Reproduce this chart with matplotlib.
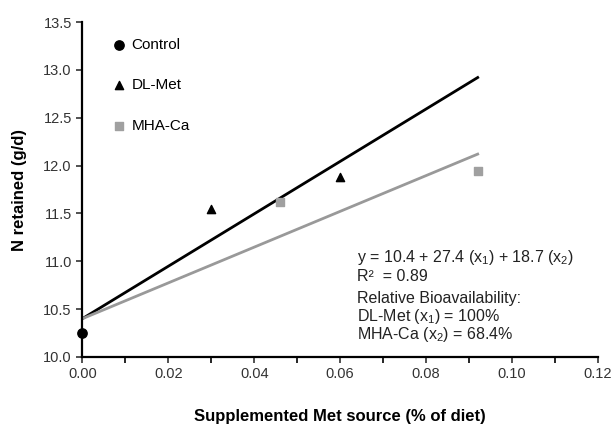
import numpy as np
import matplotlib
matplotlib.use("Agg")
import matplotlib.pyplot as plt

# -----------------------------
# Data
# -----------------------------
control_x = [0.0]
control_y = [10.25]
dlmet_x = [0.03, 0.06]
dlmet_y = [11.55, 11.88]
mha_x = [0.046, 0.092]
mha_y = [11.62, 11.94]

intercept = 10.4
slope_dlmet = 27.4
slope_mha = 18.7
line_x = [0.0, 0.092]

x_ticks = [0.00, 0.02, 0.04, 0.06, 0.08, 0.10, 0.12]
y_ticks = [10.0, 10.5, 11.0, 11.5, 12.0, 12.5, 13.0, 13.5]

annot_lines = [
    "y = 10.4 + 27.4 (x$_1$) + 18.7 (x$_2$)",
    "R\u00b2  = 0.89",
    "Relative Bioavailability:",
    "DL-Met (x$_1$) = 100%",
    "MHA-Ca (x$_2$) = 68.4%",
]

plt.rcParams['font.family'] = ['Liberation Sans', 'DejaVu Sans']
plt.rcParams['mathtext.fontset'] = 'custom'
plt.rcParams['mathtext.rm'] = 'Liberation Sans'
plt.rcParams['mathtext.default'] = 'regular'

fig = plt.figure(figsize=(6.14, 4.25), dpi=100)
ax = fig.add_axes([0.134, 0.16, 0.840, 0.788])

lx = np.array(line_x)
ax.plot(lx, intercept + slope_dlmet * lx, color="black", lw=2, zorder=2)
ax.plot(lx, intercept + slope_mha * lx, color="#999999", lw=2, zorder=2)

ax.scatter(control_x, control_y, marker="o", s=45, color="black",
           label="Control", zorder=3, clip_on=False)
ax.scatter(dlmet_x, dlmet_y, marker="^", s=35, color="black",
           label="DL-Met", zorder=3)
ax.scatter(mha_x, mha_y, marker="s", s=40, color="#a0a0a0",
           label="MHA-Ca", zorder=3)

ax.set_xlim(0, 0.12)
ax.set_ylim(10.0, 13.5)
ax.set_xticks(x_ticks)
ax.set_xticklabels([f"{t:.2f}" for t in x_ticks])
ax.set_xticks(np.arange(0.01, 0.12, 0.02), minor=True)
ax.set_yticks(y_ticks)
ax.set_yticklabels([f"{t:.1f}" for t in y_ticks])
ax.tick_params(axis="both", labelsize=10.5, direction="out", length=4,
               width=1.2, colors="#333333", labelcolor="#333333")
ax.tick_params(axis="x", which="minor", length=4, width=1.2)

for s in ["top", "right"]:
    ax.spines[s].set_visible(False)
for s in ["left", "bottom"]:
    ax.spines[s].set_linewidth(1.6)

ax.set_xlabel("Supplemented Met source (% of diet)", fontsize=12,
              fontweight="bold", labelpad=20)
ax.set_ylabel("N retained (g/d)", fontsize=12, fontweight="bold",
              labelpad=12)

ax.legend(loc="upper left", bbox_to_anchor=(0.03, 0.995), frameon=False,
          fontsize=11, labelspacing=1.75, handletextpad=0.3,
          handlelength=1.0)

# equation block, one line at a time
baselines = [0.284, 0.227, 0.161, 0.107, 0.054]
for line, yb in zip(annot_lines, baselines):
    ax.text(0.533, yb, line, transform=ax.transAxes, fontsize=11.5,
            va="baseline", ha="left", color="#222222")

fig.savefig("out.png", dpi=100)
